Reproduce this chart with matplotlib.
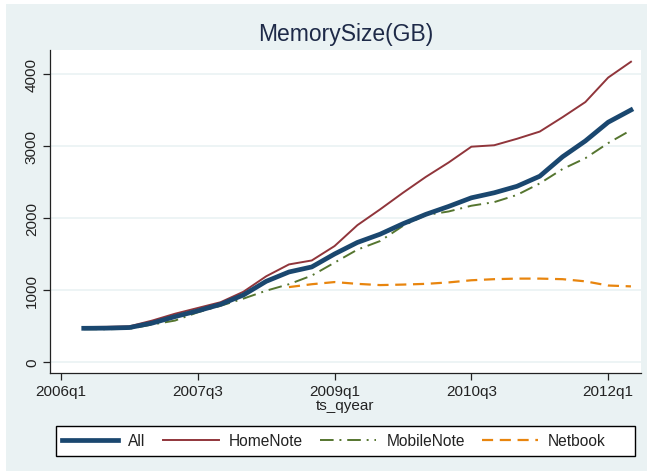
import numpy as np
import matplotlib.pyplot as plt
from matplotlib.patches import Rectangle

plt.rcParams['font.family'] = ['Liberation Sans', 'DejaVu Sans']

quarters = ['2006q2', '2006q3', '2006q4', '2007q1', '2007q2', '2007q3', '2007q4',
            '2008q1', '2008q2', '2008q3', '2008q4', '2009q1', '2009q2', '2009q3',
            '2009q4', '2010q1', '2010q2', '2010q3', '2010q4', '2011q1', '2011q2',
            '2011q3', '2011q4', '2012q1', '2012q2']

all_vals = [468, 470, 478, 540, 630, 710, 800, 930, 1120, 1250, 1320, 1500, 1660,
            1775, 1920, 2050, 2160, 2280, 2350, 2440, 2580, 2850, 3070, 3330, 3500]
homenote = [485, 488, 495, 575, 670, 750, 830, 975, 1190, 1355, 1410, 1610, 1900,
            2120, 2350, 2570, 2770, 2990, 3010, 3100, 3200, 3400, 3610, 3950, 4170]
mobilenote = [455, 455, 460, 520, 575, 690, 780, 880, 990, 1080, 1200, 1380, 1560,
              1680, 1890, 2040, 2090, 2170, 2220, 2320, 2480, 2680, 2830, 3040, 3220]
netbook = [None, None, None, None, None, None, None, None, None, 1040, 1080, 1110,
           1085, 1068, 1075, 1085, 1105, 1135, 1150, 1158, 1158, 1150, 1120, 1062, 1050]

tick_labels = ['2006q1', '2007q3', '2009q1', '2010q3', '2012q1']


def qpos(label):
    return (int(label[:4]) - 2006) * 4 + int(label[-1]) - 1


x = np.array([qpos(q) for q in quarters])
net = np.array([np.nan if v is None else v for v in netbook], dtype=float)

W, H = 654, 477
bg = '#eaf2f3'
fig = plt.figure(figsize=(W / 100, H / 100), dpi=100, facecolor='white')
fig.patches.append(Rectangle((6 / W, 1 - 472 / H), 641 / W, 467 / H,
                             transform=fig.transFigure, facecolor=bg,
                             edgecolor='none', zorder=-10))
# legend box
fig.patches.append(Rectangle((56 / W, 1 - 457 / H), 579 / W, 30 / H,
                             transform=fig.transFigure, facecolor='white',
                             edgecolor='black', lw=1.0, zorder=0))

ax = fig.add_axes([50 / W, 1 - 374 / H, 591 / W, 323 / H])
ax.set_facecolor('white')

ax.plot(x, all_vals, color='#1a476f', lw=3.4, label='All', zorder=5)
ax.plot(x, homenote, color='#90353b', lw=1.4, label='HomeNote', zorder=4)
ax.plot(x, mobilenote, color='#55752f', lw=1.4, dashes=(7, 3, 1, 3),
        label='MobileNote', zorder=3)
ax.plot(x, net, color='#e8850e', lw=1.6, dashes=(5, 3), label='Netbook', zorder=3)

ax.set_xlim(-0.48, 25.44)
ax.set_ylim(-153, 4333)
ax.set_xticks([qpos(t) for t in tick_labels])
ax.set_xticklabels(tick_labels)
ax.set_yticks([0, 1000, 2000, 3000, 4000])
ax.set_yticklabels(['0', '1000', '2000', '3000', '4000'], rotation=90, va='center')

ax.grid(axis='y', color=bg, lw=1.2)
ax.set_axisbelow(True)
for s in ['top', 'right']:
    ax.spines[s].set_visible(False)
for s in ['left', 'bottom']:
    ax.spines[s].set_color('#222222')
    ax.spines[s].set_linewidth(0.9)
ax.tick_params(axis='both', length=5, width=0.9, color='#222222',
               labelsize=11, labelcolor='#222222', pad=3)

ax.set_xlabel('ts_qyear', fontsize=11, color='#222222', labelpad=0)
fig.text(345.5 / W, 1 - 35 / H, 'MemorySize(GB)', ha='center', va='center',
         fontsize=16.5, color='#1e2a48')

leg = fig.legend(loc='center left', bbox_to_anchor=(56 / W, 1 - 442 / H), ncol=4,
                 frameon=False, fontsize=11.2, handlelength=3.6, handletextpad=0.65,
                 columnspacing=1.1, borderpad=0.4, borderaxespad=0)
leg.set_zorder(5)
for t in leg.get_texts():
    t.set_color('#222222')

fig.savefig('out.png', dpi=100, facecolor=fig.get_facecolor())
